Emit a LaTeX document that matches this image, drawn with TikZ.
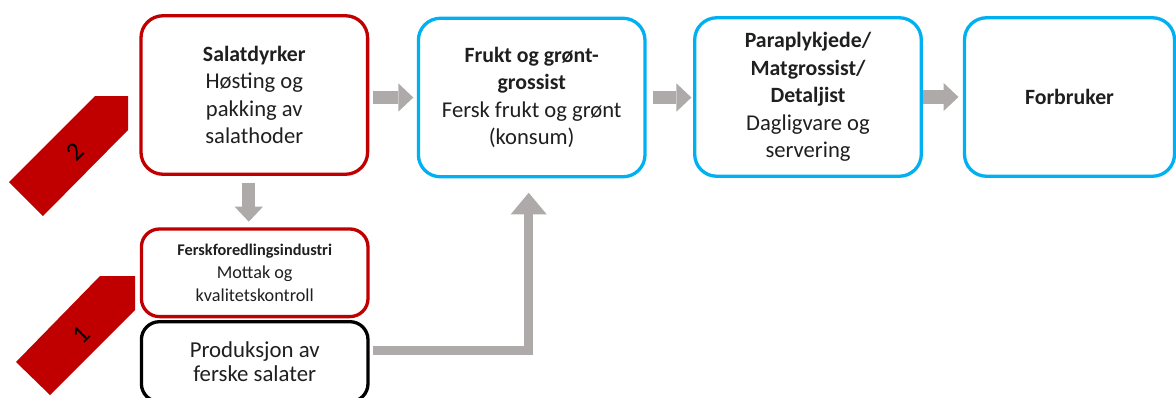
\documentclass[tikz,border=0pt]{standalone}
\usepackage{fontspec}
\setmainfont{Carlito}
\usetikzlibrary{arrows.meta}
\definecolor{boxred}{HTML}{C00000}
\definecolor{boxblue}{HTML}{00B0F0}
\definecolor{arrowgray}{HTML}{AEAAAA}
\definecolor{txt}{HTML}{1F1F1F}
\newcommand{\ttl}[1]{{\fontsize{21.8}{27.5}\selectfont\bfseries #1}}
\newcommand{\sttl}[1]{{\fontsize{16.3}{23}\selectfont\bfseries #1}}
\begin{document}
\begin{tikzpicture}[x=1pt,y=-1pt,
  box/.style={draw, line width=3.3pt, rounded corners=22pt, outer sep=0pt,
    minimum width=226.6pt, minimum height=158.5pt, inner sep=0pt, align=center,
    text=txt, font=\fontsize{22.6}{27.5}\selectfont},
  redbox/.style={box, draw=boxred},
  bluebox/.style={box, draw=boxblue},
  smallbox/.style={rounded corners=18pt, minimum height=87.6pt},
  flow/.style={draw=arrowgray, line width=13.3pt,
    -{Triangle[length=15pt,width=28.3pt,line width=0pt]}},
  flowthin/.style={draw=arrowgray, line width=9.3pt,
    -{Triangle[length=21.6pt,width=36pt,line width=0pt]}},
  tagnum/.style={rotate=45, font=\fontsize{26}{26}\selectfont, text=black, inner sep=0pt},
  tagshape/.style={fill=boxred}
]
\clip (0,0) rectangle (1176,397);

% tags
\fill[tagshape] (95,96) -- (128,96) -- (128,130) -- (43,216) -- (9,182) -- cycle;
\fill[tagshape] (100,276) -- (135,276) -- (135,310) -- (50,395) -- (16,362) -- cycle;
\node[tagnum] (t2) at (75,152) {2};
\node[tagnum] (t1) at (81,335) {1};

% boxes
\node[redbox] (b1) at (254.3,95) {\ttl{Salatdyrker}\\Høsting og\\pakking av\\salathoder};
\node[bluebox] (b2) at (531.7,97.5) {\ttl{Frukt og grønt-}\\\ttl{grossist}\\Fersk frukt og grønt\\(konsum)};
\node[bluebox] (b3) at (808,97) {\ttl{Paraplykjede/}\\\ttl{Matgrossist/}\\\ttl{Detaljist}\\Dagligvare og\\servering};
\node[bluebox, minimum width=210pt] (b4) at (1069.5,97) {\ttl{Forbruker}};
\node[redbox, smallbox, font=\fontsize{18.2}{23}\selectfont] (b5) at (254.7,272.8)
  {\sttl{Ferskforedlingsindustri}\\Mottak og\\kvalitetskontroll};
\node[box, draw=black, rounded corners=18pt, minimum height=80pt,
  font=\fontsize{22.8}{24}\selectfont] (b6) at (254.7,361.7) {Produksjon av\\ferske salater};

% connectors
\draw[flow, shorten <=5.6pt, shorten >=5.1pt] (b1.east |- b2.west) -- (b2.west);
\draw[flow, shorten <=8.3pt, shorten >=3.3pt] (b2.east) -- (b2.east -| b3.west);
\draw[flow, shorten <=2pt, shorten >=6pt] (b3.east) -- (b3.east -| b4.west);
\coordinate (d1) at ([xshift=-5.5pt]b1.south);
\draw[flow, shorten <=8.4pt, shorten >=7.3pt] (d1) -- (d1 |- b5.north);
\coordinate (e1) at ([yshift=11.2pt]b6.east);
\coordinate (e2) at ([xshift=-3pt]b2.south);
\draw[flowthin, shorten <=5pt, shorten >=16pt] (e1) -| (e2);
\end{tikzpicture}
\end{document}
